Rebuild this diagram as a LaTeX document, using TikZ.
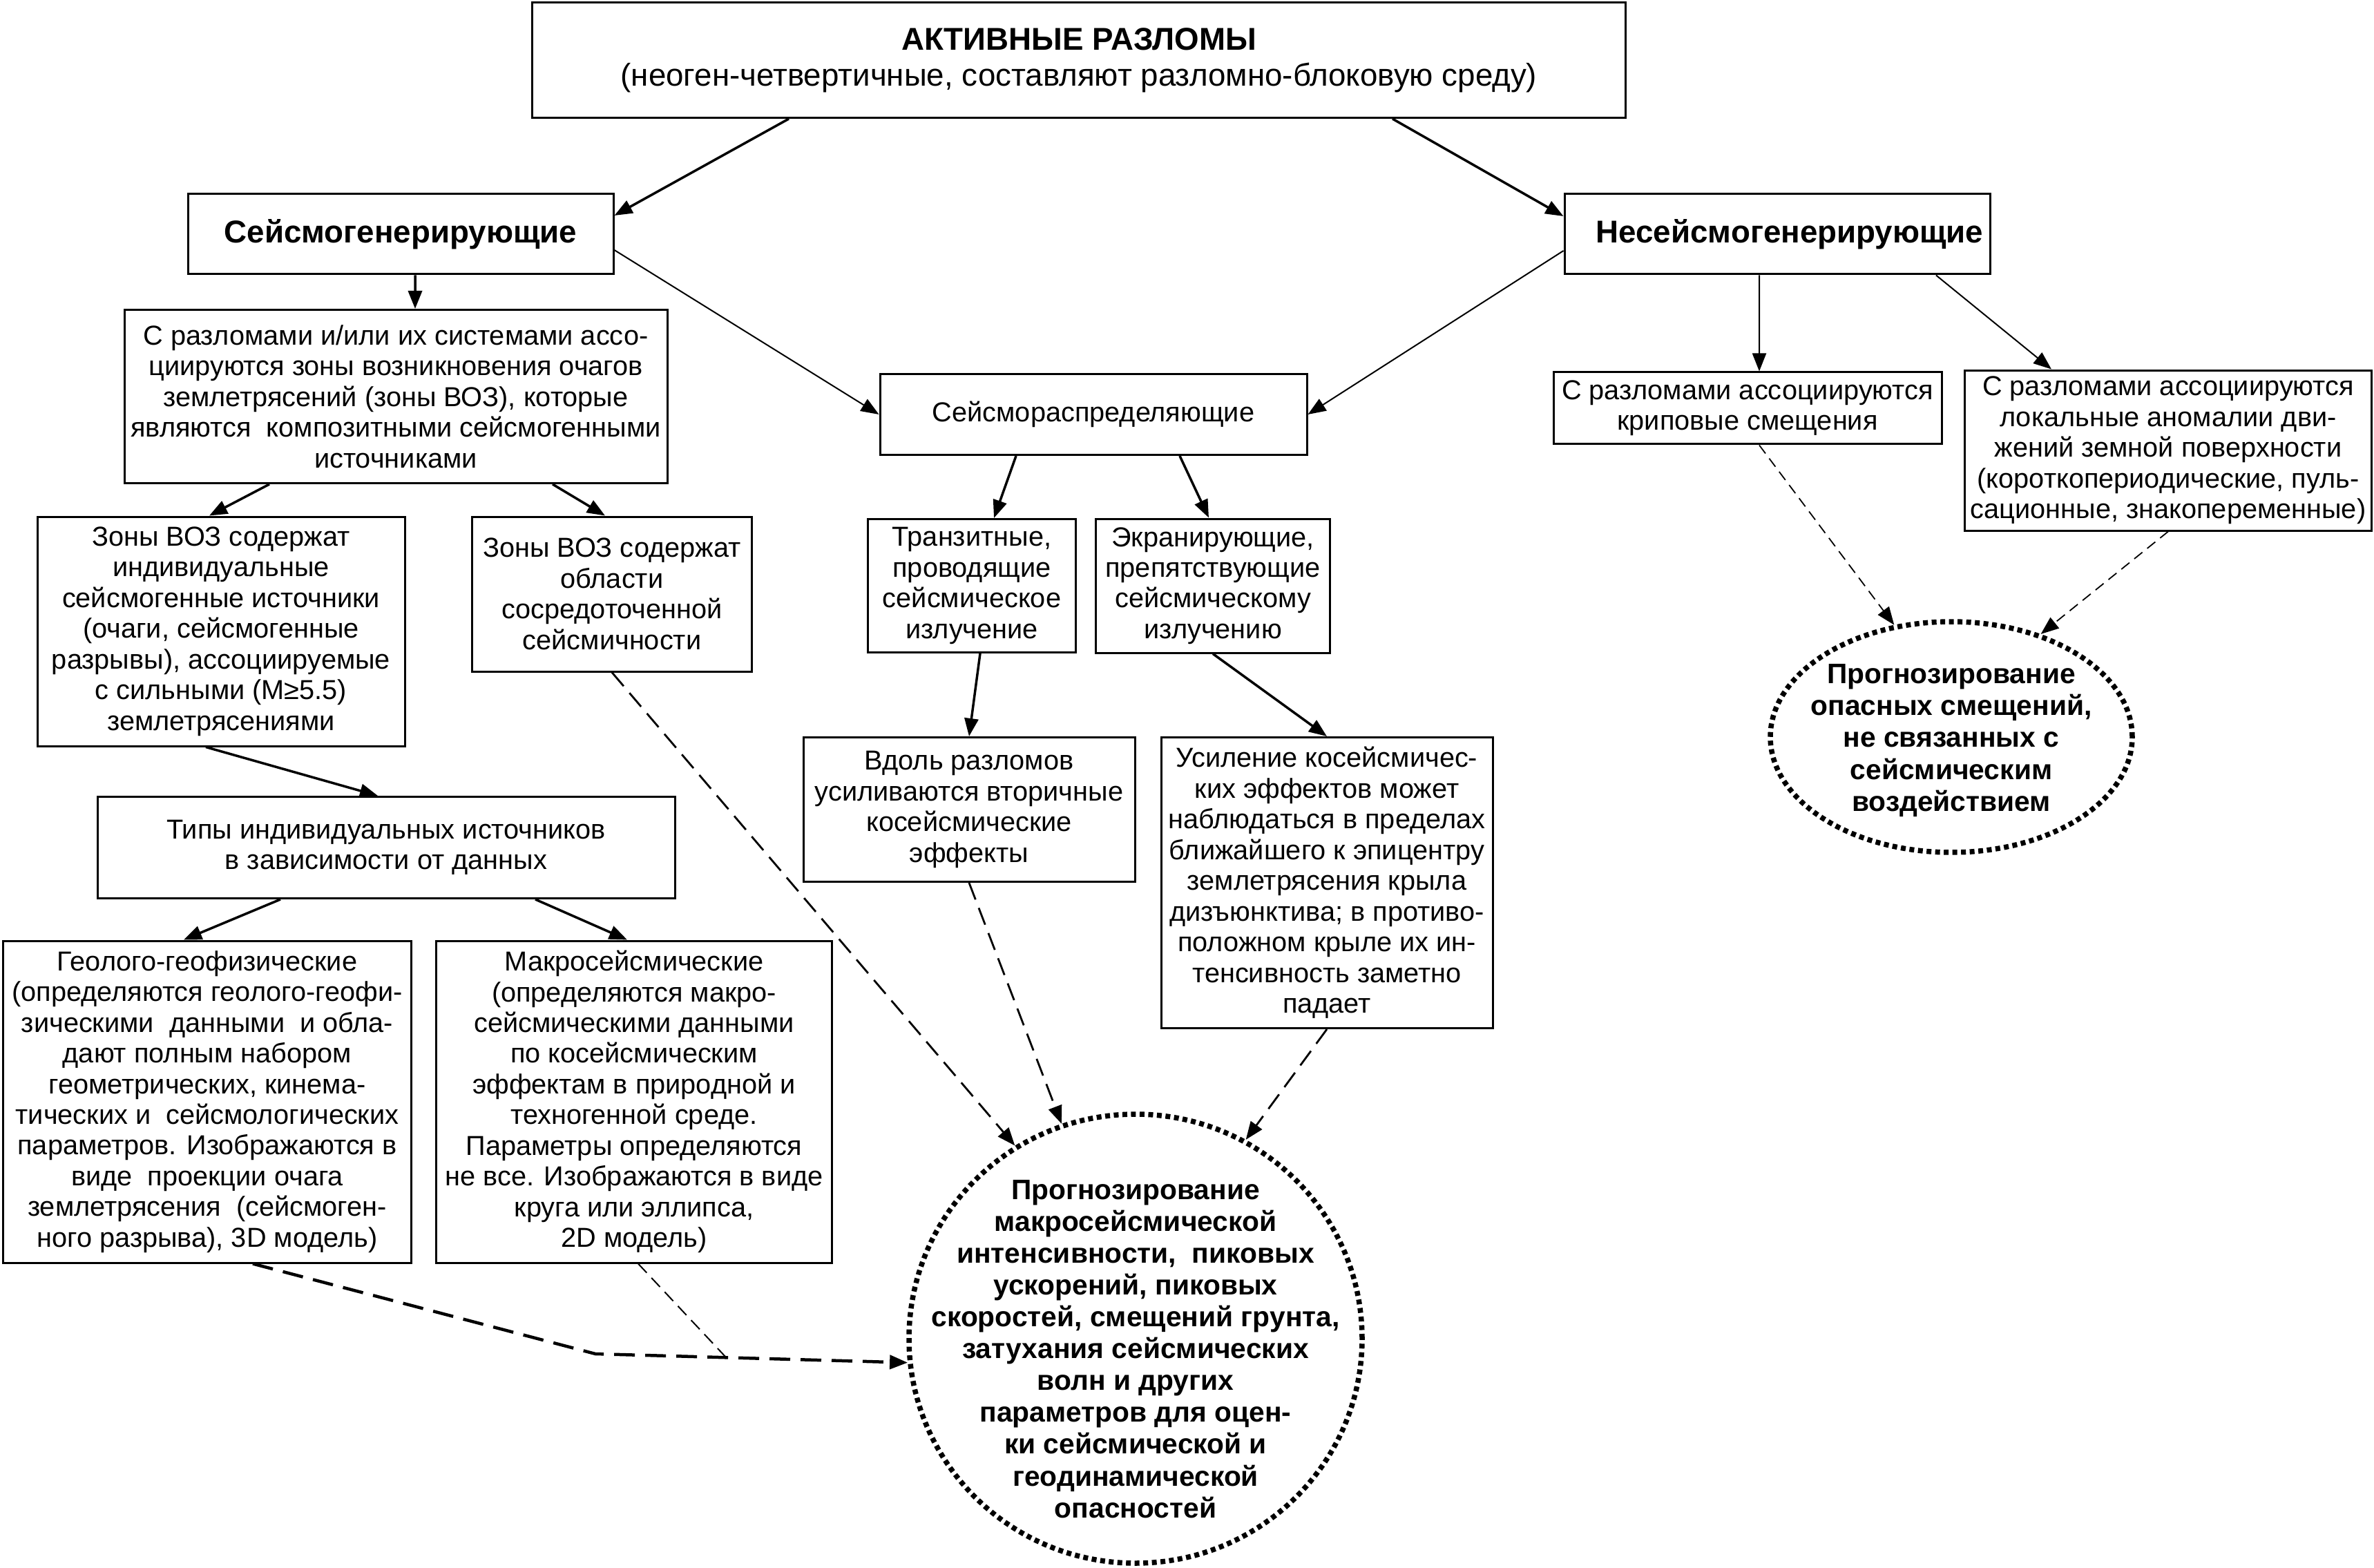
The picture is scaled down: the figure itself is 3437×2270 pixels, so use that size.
\documentclass[tikz,border=0pt]{standalone}
\usepackage{fontspec}
\setmainfont{Liberation Sans}
\usetikzlibrary{arrows.meta,shapes.geometric}

\begin{document}
\begin{tikzpicture}[x=0.1mm,y=-0.1mm,>={Triangle[length=2.6mm,width=2mm]},
  box/.style={draw,line width=0.3mm,inner sep=0pt,align=center,
    font=\fontsize{11.3}{12.65}\selectfont},
  headbox/.style={box,font=\fontsize{13}{14.8}\selectfont\bfseries},
  dotring/.style={ellipse,draw,line width=0.75mm,dash pattern=on 0.7mm off 0.55mm,
    inner sep=0pt},
  ringtext/.style={inner sep=0pt,align=center,font=\fontsize{11.6}{13.1}\selectfont\bfseries},
  mainarr/.style={->,line width=0.35mm},
  sidearr/.style={->,line width=0.2mm},
  dasharr/.style={->,line width=0.28mm,dash pattern=on 2.6mm off 1.3mm},
  heavydash/.style={->,line width=0.45mm,dash pattern=on 3mm off 1.5mm},
  lightdash/.style={line width=0.2mm,dash pattern=on 1.8mm off 1mm},
  finedash/.style={->,line width=0.18mm,dash pattern=on 1.5mm off 0.9mm}]
  \useasboundingbox (0,0) rectangle (3437,2270);

  \node[box,minimum width=158.3mm,minimum height=16.7mm,
    font=\fontsize{13}{14.8}\selectfont] (top) at (1562,87)
    {\textbf{АКТИВНЫЕ РАЗЛОМЫ}\\(неоген-четвертичные, составляют разломно-блоковую среду)};
  \node[headbox,minimum width=61.6mm,minimum height=11.6mm] (sg) at (580,339)
    {Сейсмогенерирующие};
  \node[headbox,minimum width=61.6mm,minimum height=11.6mm] (nsg) at (2573,339)
    {\hspace*{3.6mm}Несейсмогенерирующие};

  \node[box,minimum width=78.6mm,minimum height=25.1mm] (assoc) at (573,574)
    {С разломами и/или их системами ассо-\\циируются зоны возникновения очагов\\
     землетрясений (зоны ВОЗ), которые\\являются\ \ композитными сейсмогенными\\источниками};
  \node[box,minimum width=53.2mm,minimum height=33.2mm] (zone1) at (320,914)
    {Зоны ВОЗ содержат\\индивидуальные\\сейсмогенные источники\\(очаги, сейсмогенные\\
     разрывы), ассоциируемые\\с сильными (М≥5.5)\\землетрясениями};
  \node[box,minimum width=40.5mm,minimum height=22.4mm] (zone2) at (886,860)
    {Зоны ВОЗ содержат\\области\\сосредоточенной\\сейсмичности};
  \node[box,minimum width=83.6mm,minimum height=14.7mm] (types) at (559,1227)
    {Типы индивидуальных источников\\в зависимости от данных};
  \node[box,minimum width=59.1mm,minimum height=46.6mm] (geo) at (300,1595)
    {Геолого-геофизические\\(определяются геолого-геофи-\\зическими\ \ данными\ \ и обла-\\
     дают полным набором\\геометрических, кинема-\\тических и\ \ сейсмологических\\
     параметров. Изображаются в\\виде\ \ проекции очага\\землетрясения\ \ (сейсмоген-\\
     ного разрыва), 3D модель)};
  \node[box,minimum width=57.3mm,minimum height=46.6mm] (macro) at (918,1595)
    {Макросейсмические\\(определяются макро-\\сейсмическими данными\\по косейсмическим\\
     эффектам в природной и\\техногенной среде.\\Параметры определяются\\
     не все. Изображаются в виде\\круга или эллипса,\\2D модель)};

  \node[box,minimum width=61.8mm,minimum height=11.7mm] (sr) at (1583,600)
    {Сейсмораспределяющие};
  \node[box,minimum width=30.1mm,minimum height=19.3mm] (tranz) at (1407,848)
    {Транзитные,\\проводящие\\сейсмическое\\излучение};
  \node[box,minimum width=33.9mm,minimum height=19.4mm] (ekran) at (1756,848)
    {Экранирующие,\\препятствующие\\сейсмическому\\излучению};
  \node[box,minimum width=48mm,minimum height=20.9mm] (vdol) at (1403,1172)
    {Вдоль разломов\\усиливаются вторичные\\косейсмические\\эффекты};
  \node[box,minimum width=48mm,minimum height=42.1mm] (usil) at (1921,1278)
    {Усиление косейсмичес-\\ких эффектов может\\наблюдаться в пределах\\
     ближайшего к эпицентру\\землетрясения крыла\\дизъюнктива; в противо-\\
     положном крыле их ин-\\тенсивность заметно\\падает};

  \node[box,minimum width=56.2mm,minimum height=10.4mm] (creep) at (2530,591)
    {С разломами ассоциируются\\криповые смещения};
  \node[box,minimum width=58.9mm,minimum height=23.2mm] (local) at (3139,652)
    {С разломами ассоциируются\\локальные аномалии дви-\\жений земной поверхности\\
     (короткопериодические, пуль-\\сационные, знакопеременные)};

  \node[dotring,minimum width=65.6mm,minimum height=65mm] (bigc) at (1644,1938) {};
  \node[ringtext] (bigtext) at ([yshift=-1.5mm]bigc.center)
    {Прогнозирование\\макросейсмической\\интенсивности,\ \ пиковых\\ускорений, пиковых\\
     скоростей, смещений грунта,\\затухания сейсмических\\волн и других\\
     параметров для оцен-\\ки сейсмической и\\геодинамической\\опасностей};
  \node[dotring,minimum width=52.4mm,minimum height=33.4mm] (smallc) at (2825,1067) {};
  \node[ringtext] (smalltext) at ([yshift=-0.5mm]smallc.center)
    {Прогнозирование\\опасных смещений,\\не связанных с\\сейсмическим\\воздействием};

  \coordinate (bend) at (862,1960);
  \coordinate (joint) at (1052,1966);

  \draw[mainarr] ([xshift=-42mm]top.south) -- ([yshift=2.7mm]sg.east);
  \draw[mainarr] ([xshift=45.4mm]top.south) -- ([yshift=2.6mm]nsg.west);
  \draw[mainarr] ([xshift=2.1mm]sg.south) -- ([xshift=2.8mm]assoc.north);
  \draw[sidearr] ([yshift=-2.3mm]sg.east) -- (sr.west);
  \draw[sidearr] ([yshift=-2.4mm]nsg.west) -- (sr.east);
  \draw[sidearr] ([xshift=-2.6mm]nsg.south) -- ([xshift=1.7mm]creep.north);
  \draw[sidearr] ([xshift=23mm]nsg.south) -- ([xshift=-16.9mm]local.north);
  \draw[mainarr] ([xshift=-18.3mm]assoc.south) -- ([xshift=-1.7mm]zone1.north);
  \draw[mainarr] ([xshift=22.7mm]assoc.south) -- ([xshift=-1mm]zone2.north);
  \draw[mainarr] ([xshift=-2.2mm]zone1.south) -- ([xshift=-1.2mm]types.north);
  \draw[mainarr] ([xshift=-15.3mm]types.south) -- ([xshift=-3.4mm]geo.north);
  \draw[mainarr] ([xshift=21.6mm]types.south) -- ([xshift=-1mm]macro.north);
  \draw[mainarr] ([xshift=-11.2mm]sr.south) -- ([xshift=3.2mm]tranz.north);
  \draw[mainarr] ([xshift=12.5mm]sr.south) -- ([xshift=-0.6mm]ekran.north);
  \draw[mainarr] ([xshift=1.2mm]tranz.south) -- (vdol.north);
  \draw[mainarr] (ekran.south) -- (usil.north);

  \draw[dasharr] (zone2.south) -- (bigc.122);
  \draw[dasharr] (vdol.south) -- (bigc.109);
  \draw[dasharr] (usil.south) -- (bigc.61);
  \draw[heavydash] ([xshift=6.6mm]geo.south) -- (bend) -- (bigc.186);
  \draw[lightdash] ([xshift=0.6mm]macro.south) -- (joint);
  \draw[finedash] ([xshift=1.7mm]creep.south) -- (smallc.117);
  \draw[finedash] (local.south) -- (smallc.49);
\end{tikzpicture}
\end{document}
